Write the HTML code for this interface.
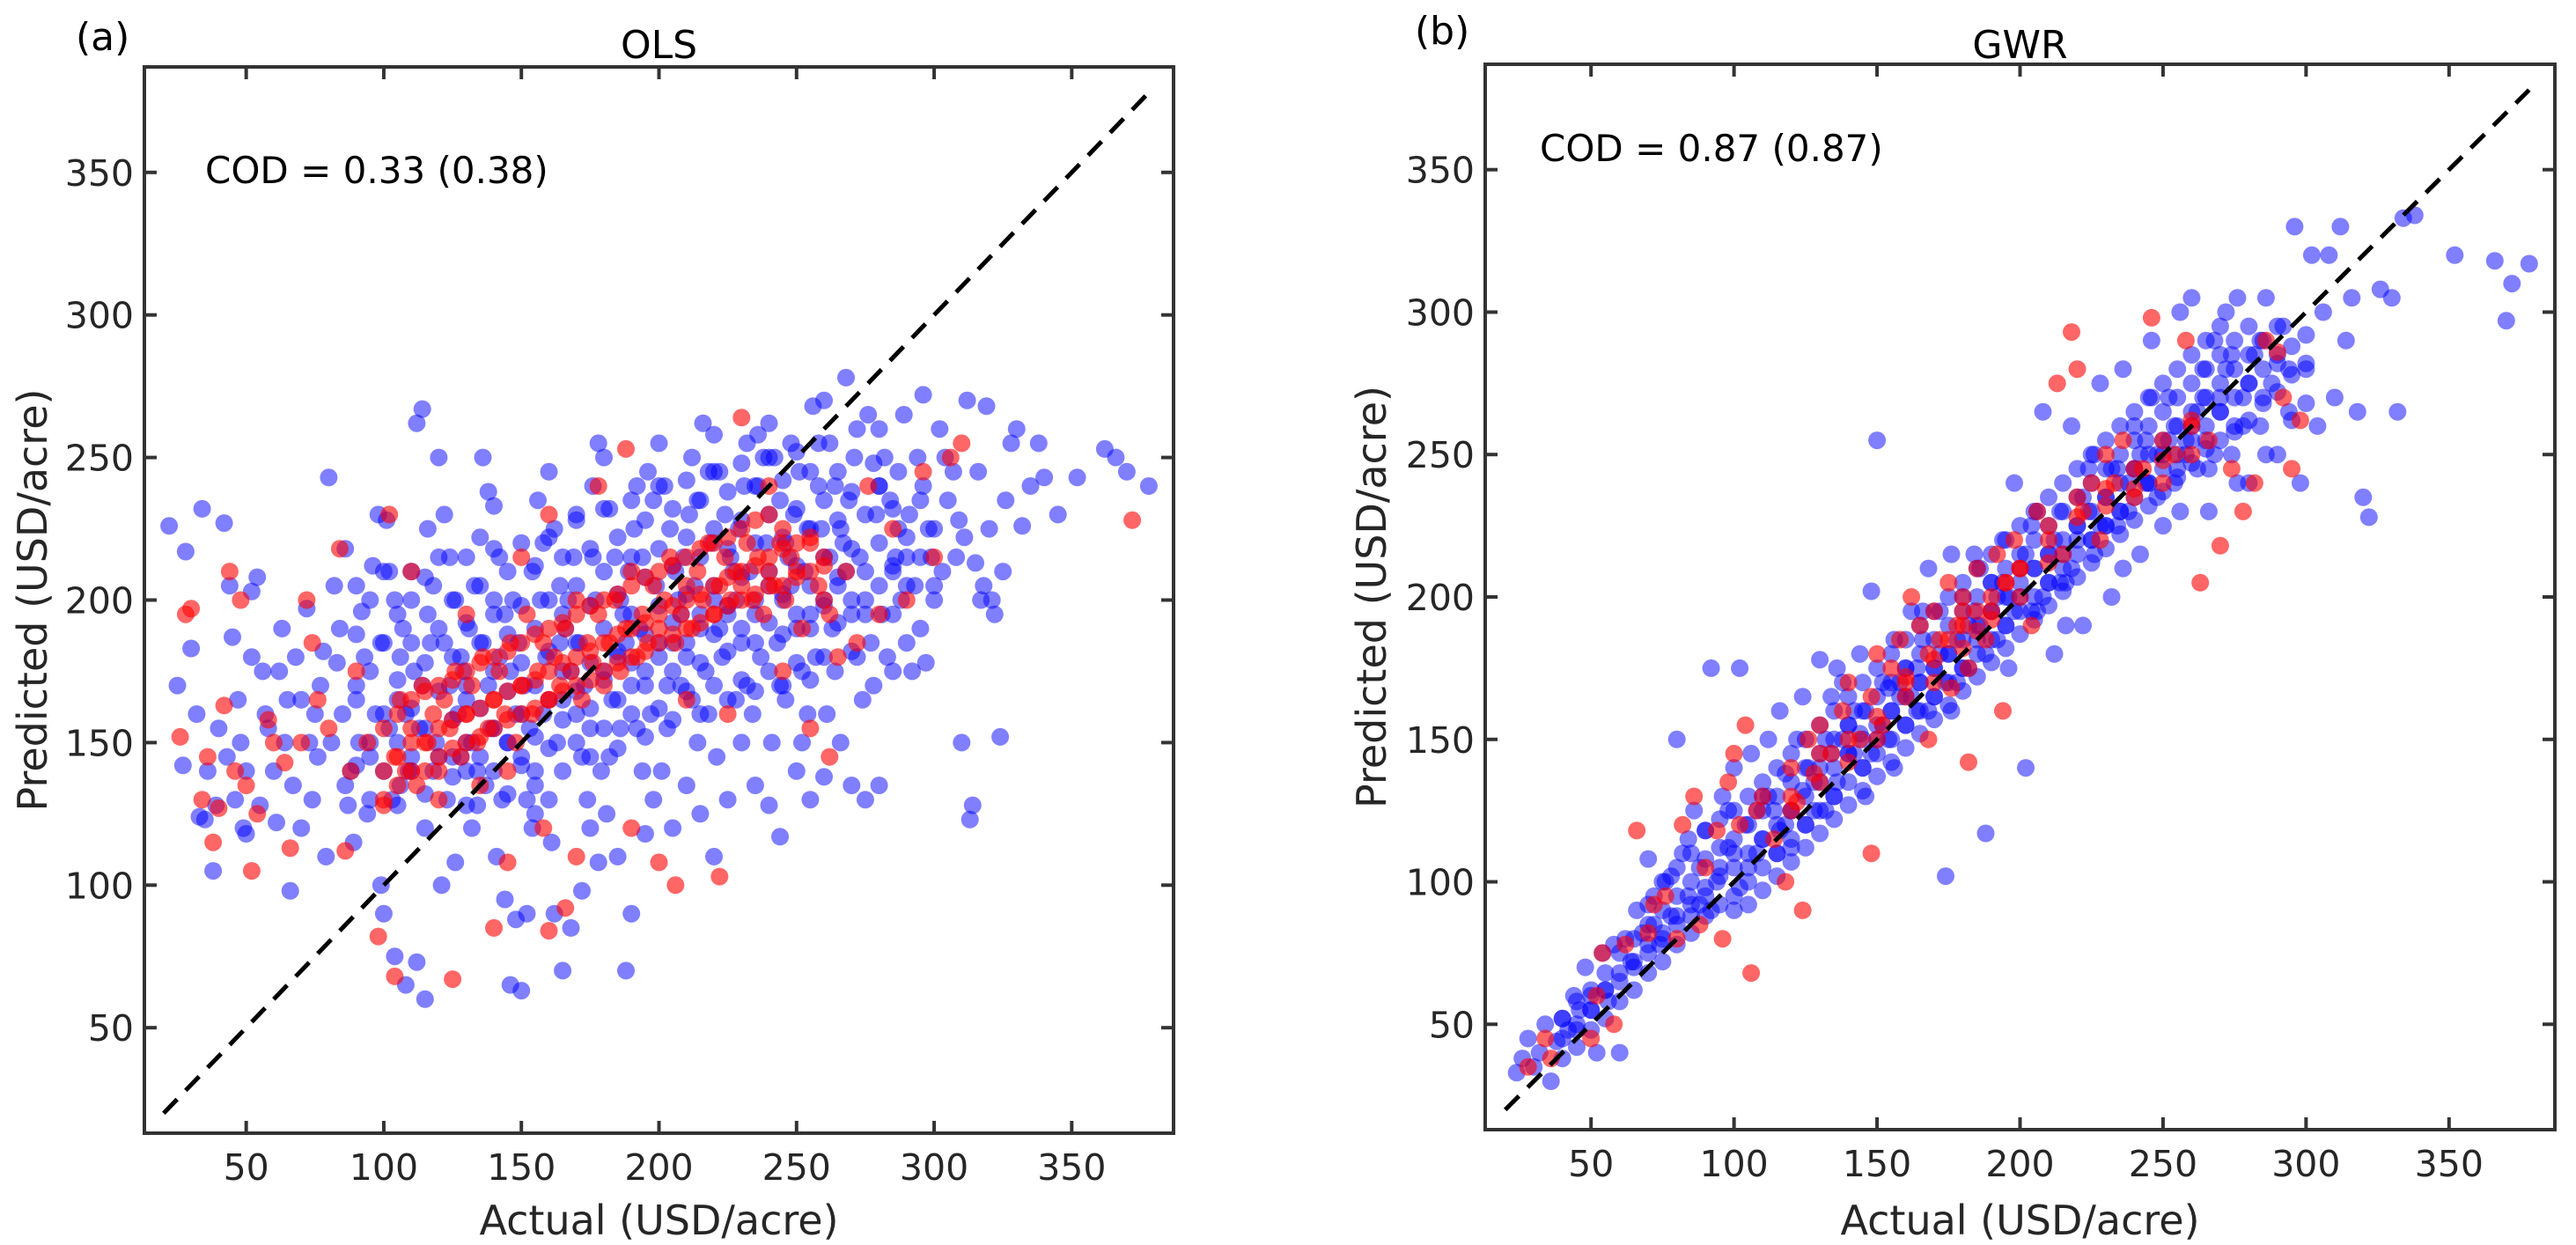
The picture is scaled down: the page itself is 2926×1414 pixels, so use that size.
<!DOCTYPE html>
<html><head><meta charset="utf-8"><style>
html,body{margin:0;padding:0;background:#fff;}
svg{display:block;font-family:"DejaVu Sans","Liberation Sans",sans-serif;}
</style></head><body>
<svg id="fig" width="2926" height="1414" viewBox="0 0 2926 1414" xmlns="http://www.w3.org/2000/svg"></svg>
<script>
const tickValues=[50,100,150,200,250,300,350];
const tickLabels=["50","100","150","200","250","300","350"];
const axisMin=[13,13];
const axisMax=[387,387];
const identityLine=[20,378];
const olsBlue=[[22,226],[25,170],[28,217],[30,183],[32,160],[34,232],[36,140],[38,105],[35,123],[40,155],[27,142],[33,124],[39,128],
[42,227],[44,205],[45,187],[47,165],[48,150],[50,140],[52,203],[54,208],[56,175],[58,155],[46,130],[50,118],[55,128],[43,145],[57,160],[52,180],[49,120],
[60,140],[62,175],[64,150],[66,98],[68,180],[70,165],[72,197],[74,130],[76,145],[78,182],[61,122],[65,165],[70,120],[75,160],[79,110],[63,190],[67,135],[73,150],[77,170],
[80,243],[82,205],[84,190],[85,160],[86,218],[88,140],[90,170],[92,196],[94,125],[96,212],[98,230],[99,100],[81,150],[83,178],[87,128],[89,115],[91,150],[93,180],[95,145],[97,160],[86,135],[90,205],[95,130],[99,185],
[100,90],[101,228],[102,210],[104,200],[106,180],[108,160],[110,145],[112,262],[114,267],[116,225],[118,205],[103,130],[105,165],[107,190],[109,140],[111,175],[113,155],[115,120],[117,185],[119,150],[104,75],[108,65],[112,73],[115,60],[106,135],[110,210],[114,170],[118,140],[102,155],[116,195],
[120,250],[122,230],[124,215],[126,200],[128,180],[130,165],[132,150],[134,140],[136,250],[138,238],[121,100],[123,130],[125,145],[127,160],[129,175],[131,190],[133,205],[135,222],[137,135],[139,155],[124,170],[128,145],[132,120],[136,185],[140,200],[126,108],[134,128],[138,170],[122,185],[130,140],
[140,233],[142,215],[144,195],[146,175],[148,160],[150,145],[152,130],[154,120],[156,235],[158,220],[141,110],[143,130],[145,150],[147,200],[149,185],[151,170],[153,155],[155,140],[157,200],[159,180],[144,95],[148,88],[150,63],[146,65],[152,90],[155,125],[158,160],[142,180],[154,210],[160,130],
[160,245],[162,225],[164,205],[166,190],[168,175],[170,160],[172,145],[174,130],[176,240],[178,255],[161,115],[163,150],[165,165],[167,200],[169,215],[171,185],[173,170],[175,155],[177,200],[179,140],[162,90],[165,70],[168,85],[172,98],[175,120],[178,108],[164,185],[170,230],[176,215],[180,175],
[180,250],[182,232],[184,215],[186,200],[188,185],[190,170],[192,155],[194,140],[196,245],[198,235],[181,125],[183,165],[185,180],[187,195],[189,210],[191,225],[193,190],[195,175],[197,160],[199,205],[188,70],[190,90],[185,110],[195,118],[198,130],[182,145],[192,240],[186,155],[194,215],[200,185],
[200,255],[202,240],[204,225],[206,210],[208,195],[210,180],[212,165],[214,150],[216,262],[218,245],[201,140],[203,170],[205,185],[207,200],[209,215],[211,230],[213,205],[215,190],[217,175],[219,220],[205,120],[210,135],[215,125],[220,110],[203,155],[212,250],[218,160],[208,170],[214,235],[220,200],
[220,258],[222,245],[224,230],[226,215],[228,200],[230,185],[232,170],[234,160],[236,258],[238,250],[221,145],[223,180],[225,195],[227,210],[229,225],[231,240],[233,210],[235,195],[237,180],[239,220],[225,130],[230,150],[235,135],[240,128],[244,117],[228,165],[236,240],[232,255],[240,205],[222,190],
[240,262],[242,250],[244,235],[246,220],[248,205],[250,190],[252,175],[254,160],[256,268],[258,255],[241,150],[243,185],[245,200],[247,215],[249,230],[251,245],[253,210],[255,195],[257,180],[259,225],[250,140],[255,130],[252,150],[260,138],[246,165],[258,240],[244,170],[254,225],[260,200],[248,255],
[260,270],[262,255],[264,240],[266,225],[268,210],[270,195],[272,180],[274,165],[276,265],[278,248],[261,160],[263,190],[265,205],[267,220],[269,235],[271,250],[273,215],[275,200],[277,185],[279,230],[266,150],[270,135],[275,130],[280,135],[268,278],[264,175],[278,170],[272,260],[262,215],[280,240],
[280,260],[282,250],[284,235],[286,215],[288,200],[290,185],[292,175],[294,250],[296,240],[298,225],[281,195],[283,180],[285,210],[287,245],[289,265],[291,230],[293,205],[295,190],[297,178],[299,215],[285,175],[290,215],[296,272],[300,200],[287,225],
[302,260],[305,235],[308,215],[310,150],[312,270],[314,128],[316,245],[318,205],[320,225],[322,195],[324,152],[326,235],[328,255],[330,260],[304,250],[309,228],[313,123],[317,200],[321,200],[303,210],[307,245],[311,222],[315,213],[319,268],[325,210],
[332,226],[338,255],[340,243],[352,243],[362,253],[366,250],[370,245],[378,240],[335,240],[345,230]];
const olsBlueCore=[[90,[165,188,142]],[95,[175,150,200]],[100,[160,185,140,210]],[105,[150,172,195,128]],[110,[162,185,140,200]],[115,[155,178,132,208]],[120,[168,145,190,215]],[125,[158,180,138,200]],[130,[170,150,192,215,128]],[135,[162,185,145,205]],[140,[175,155,195,140,218]],[145,[168,188,150,210,132]],[150,[178,160,198,142,220]],[155,[170,190,152,212,135]],[160,[182,165,200,148,222]],[165,[175,195,158,215,140]],[170,[185,168,205,150,228]],[175,[178,198,162,218,145]],[180,[190,172,210,155,232]],[185,[182,202,165,222,148]],[190,[195,178,215,160,235]],[195,[188,208,170,228,152]],[200,[198,180,218,162,240]],[205,[192,212,175,232,158]],[210,[202,185,222,168,242]],[215,[195,215,178,235,160]],[220,[205,188,225,170,245]],[225,[198,218,182,238,165]],[230,[208,190,228,172,248]],[235,[200,220,185,240,168]],[240,[210,192,230,175,250]],[245,[202,222,188,242,170]],[250,[212,195,232,178,252]],[255,[205,225,190,245,172]],[260,[215,198,235,180]],[265,[208,228,192,245]],[270,[218,200,238,182]],[275,[210,230,195]],[280,[220,205,240]],[285,[212,232,195]],[290,[222,205]],[295,[215,235]],[300,[225,205]]];
const olsRed=[[26,152],[28,195],[30,197],[34,130],[36,145],[38,115],[40,127],[42,163],[44,210],[46,140],[48,200],[50,135],[52,105],[54,125],[58,158],[60,150],[64,143],[66,113],[70,150],[72,200],[74,185],[76,165],[80,155],[84,218],[86,112],[88,140],[90,175],[94,150],[98,82],[100,128],[102,230],[104,145],[106,165],[108,140],[110,155],[112,135],[114,170],[116,150],[118,160],[120,140],[122,165],[124,155],[126,175],[128,145],[130,160],[132,170],[134,150],[136,180],[138,155],[140,165],[142,175],[144,160],[146,185],[148,150],[150,170],[152,195],[154,160],[156,175],[158,185],[160,165],[162,180],[164,170],[166,190],[168,175],[170,200],[172,165],[174,185],[176,178],[178,195],[180,170],[182,185],[184,200],[186,175],[188,190],[190,210],[192,180],[194,195],[196,185],[198,205],[200,190],[202,200],[204,215],[206,185],[208,195],[210,205],[212,190],[214,210],[216,200],[218,220],[220,195],[222,205],[224,215],[226,200],[228,210],[230,205],[232,220],[234,200],[236,215],[238,195],[240,210],[242,205],[244,220],[246,200],[248,215],[250,210],[252,190],[255,220],[258,205],[260,215],[262,195],[265,180],[268,210],[272,185],[276,240],[280,195],[285,225],[290,200],[296,245],[300,215],[306,250],[310,255],[372,228],[140,85],[145,108],[160,84],[166,92],[190,120],[200,108],[206,100],[222,103],[125,67],[104,68],[158,120],[170,110],[230,264],[188,253],[160,230],[178,240],[240,240],[110,210],[130,195],[150,215],[210,165],[225,160],[245,175],[255,155],[262,145],[145,140],[120,130],[135,135]];
const olsRedCore=[[100,[140,155,130]],[105,[145,160,135]],[110,[150,165,140]],[115,[150,168,140]],[120,[155,170,145]],[125,[158,172,148]],[130,[160,175,150]],[135,[162,178,152]],[140,[165,180,155]],[145,[168,182,158]],[150,[170,185,160]],[155,[172,188,162]],[160,[175,190,165]],[165,[178,192,168]],[170,[180,195,170]],[175,[182,198,172]],[180,[185,200,175]],[185,[188,202,178]],[190,[190,205,180]],[195,[192,208,182]],[200,[195,210,185]],[205,[198,212,188]],[210,[200,215,190]],[215,[202,218,192]],[220,[205,220,195]],[225,[208,222,198]],[230,[210,225,200]],[235,[212,228,202]],[240,[215,230,205]],[245,[205,218,225]],[250,[208,220]],[255,[210,222]],[260,[212,200]]];
const gwrBlue=[[24,33],[26,38],[28,45],[30,35],[32,40],[34,50],[36,30],[38,44],[40,52],[42,48],[44,60],[46,55],[48,70],[50,62],[52,40],[54,75],[56,58],[58,78],[60,40],[62,80],[64,72],[66,90],[68,82],[70,108],[72,95],[74,78],[76,100],[78,88],[80,150],[82,110],[84,95],[86,125],[88,105],[90,118],[92,175],[94,100],[96,130],[98,112],[100,140],[102,175],[104,120],[106,145],[108,110],[110,130],[112,150],[114,125],[116,160],[118,138],[120,112],[122,150],[124,165],[126,140],[128,125],[130,178],[132,150],[134,165],[136,135],[138,170],[140,155],[142,145],[144,180],[146,160],[148,202],[150,255],[152,170],[154,150],[156,185],[158,165],[160,175],[162,195],[164,160],[166,185],[168,210],[170,175],[172,195],[174,102],[176,215],[178,185],[180,200],[182,175],[184,215],[186,190],[188,117],[190,205],[192,185],[194,220],[196,200],[198,240],[200,210],[202,140],[204,225],[206,195],[208,265],[210,215],[212,180],[214,230],[216,205],[218,260],[220,220],[222,190],[224,245],[226,215],[228,275],[230,225],[232,200],[234,245],[236,280],[238,230],[240,260],[242,215],[244,240],[246,290],[248,250],[250,225],[252,270],[254,240],[256,300],[258,255],[260,305],[262,245],[264,280],[266,230],[268,290],[270,265],[272,300],[274,250],[276,305],[278,270],[280,240],[282,285],[284,260],[286,305],[288,275],[290,250],[292,295],[294,265],[296,330],[298,240],[300,280],[302,320],[304,260],[306,300],[308,320],[310,270],[312,330],[314,290],[316,305],[318,265],[320,235],[322,228],[326,308],[330,305],[332,265],[338,334],[352,320],[366,318],[370,297],[372,310],[378,317],[334,333],
[105,105],[110,115],[115,110],[120,125],[125,120],[130,140],[135,130],[140,145],[145,140],[150,150],[155,160],[160,155],[165,170],[170,165],[175,180],[180,175],[185,185],[190,195],[195,190],[200,200],[205,210],[210,205],[215,215],[220,225],[225,220],[230,235],[235,230],[240,245],[245,240],[250,250],[255,245],[260,260],[265,255],[270,270],[275,260],[280,275],[285,270],[290,285],[112,130],[118,120],[128,135],[132,125],[138,150],[142,160],[148,145],[152,155],[158,170],[162,165],[168,160],[172,180],[178,170],[182,190],[188,180],[192,200],[198,195],[202,215],[208,200],[212,220],[218,210],[222,235],[228,225],[232,245],[238,240],[242,250],[248,235],[252,255],[258,250],[262,265],[268,250],[272,280],[278,260],[100,110],[95,105],[90,95],[85,88],[80,85],[75,80],[70,78],[65,72],[60,68],[55,62],[50,55],[45,48],[98,125],[92,90],[88,92],[84,115],[78,102],[72,85],[102,98],[108,125],[116,118],[124,132],[134,145],[144,152],[154,168],[164,175],[174,170],[184,195],[194,205],[204,195],[214,205],[224,230],[234,225],[244,255],[254,260],[264,270],[274,285],[284,290],[294,280],[136,175],[146,130],[156,140],[166,195],[176,160],[186,210],[196,175],[206,230],[216,190],[226,250],[236,210],[246,270],[256,230],[266,245],[276,240],[286,250]];
const gwrBlueCore=[[40,[45,38,52]],[45,[50,42,58]],[50,[48,60,55]],[55,[62,52,68]],[60,[65,58,75]],[65,[70,62,80]],[70,[75,68,85,92]],[75,[82,72,90,100]],[80,[88,78,95,105]],[85,[92,82,100,110]],[90,[98,88,108,118]],[95,[102,92,112,122]],[100,[105,95,115,125,90]],[105,[110,100,120,130,92]],[110,[115,105,125,135,97]],[115,[120,110,130,140,102]],[120,[125,115,135,145,107]],[125,[130,120,140,150,112]],[130,[135,125,145,155,117]],[135,[140,130,150,160,122]],[140,[145,135,155,165,127]],[145,[150,140,160,170,132]],[150,[155,145,165,175,137]],[155,[160,150,170,180,142]],[160,[165,155,175,185,147]],[165,[170,160,180,190,152]],[170,[175,165,185,195,157]],[175,[180,170,190,200,162]],[180,[185,175,195,205,167]],[185,[190,180,200,210,172]],[190,[195,185,205,215,177]],[195,[200,190,210,220,182]],[200,[205,195,215,225,187]],[205,[210,200,220,230,192]],[210,[215,205,225,235,197]],[215,[220,210,230,240,202]],[220,[225,215,235,245,207]],[225,[230,220,240,250,212]],[230,[235,225,245,255,217]],[235,[240,230,250,260,222]],[240,[245,235,255,265,227]],[245,[250,240,260,270,232]],[250,[255,245,265,275,237]],[255,[260,250,270,280,242]],[260,[265,255,275,285,247]],[265,[270,260,280,290,252]],[270,[275,265,285,295,255]],[275,[280,270,290,258]],[280,[285,275,295,262]],[285,[290,280,268]],[290,[295,282,272]],[295,[288,278,262]],[300,[292,282,268]]];
const gwrRed=[[28,35],[34,45],[36,38],[50,45],[52,60],[54,75],[58,50],[62,78],[66,118],[70,82],[72,92],[76,95],[80,80],[82,120],[86,130],[88,85],[90,105],[94,118],[96,80],[98,135],[100,145],[102,120],[104,155],[106,68],[108,125],[110,130],[114,115],[118,100],[120,140],[122,128],[124,90],[126,150],[128,138],[130,155],[134,145],[138,160],[140,170],[144,150],[148,165],[150,180],[152,155],[155,175],[158,185],[160,170],[162,200],[165,190],[168,180],[170,195],[172,185],[175,205],[178,190],[180,200],[182,175],[185,210],[188,185],[190,195],[192,215],[195,205],[198,220],[200,210],[204,190],[206,230],[210,225],[213,275],[215,215],[218,293],[220,280],[222,230],[225,240],[228,220],[230,250],[233,240],[236,255],[240,235],[243,245],[246,298],[250,240],[254,250],[258,290],[260,260],[263,205],[266,255],[270,218],[274,245],[278,230],[282,240],[286,290],[290,286],[292,270],[295,245],[298,262],[182,142],[168,150],[148,110],[176,168],[194,160]];
const gwrRedCore=[[120,[125,130]],[130,[135,145]],[140,[150,142]],[150,[158,150]],[160,[165,172]],[170,[178,170]],[175,[185]],[180,[190,182,195]],[185,[195,188]],[190,[200,192]],[195,[205]],[200,[210,200]],[210,[220,212]],[220,[228,235]],[230,[238,232]],[240,[245,238]],[250,[255,248]],[260,[262,250]]];

const NS="http://www.w3.org/2000/svg";
const svg=document.getElementById('fig');
function mk(tag,attrs,parent){const e=document.createElementNS(NS,tag);for(const k in attrs)e.setAttribute(k,attrs[k]);(parent||svg).appendChild(e);return e;}
function expand(core){const out=[];core.forEach(c=>c[1].forEach(y=>out.push([c[0],y])));return out;}

const panels=[
 {key:'ols',l:164,r:1333,t:76,b:1287,title:'OLS',tag:'(a)',tagX:86,tagY:57,cod:'COD = 0.33 (0.38)',codX:233,codY:208,ylabX:37,blue:olsBlue.concat(expand(olsBlueCore)),red:olsRed.concat(expand(olsRedCore))},
 {key:'gwr',l:1687,r:2902,t:73,b:1283,title:'GWR',tag:'(b)',tagX:1607,tagY:50,cod:'COD = 0.87 (0.87)',codX:1749,codY:183,ylabX:1558,blue:gwrBlue.concat(expand(gwrBlueCore)),red:gwrRed.concat(expand(gwrRedCore))}
];
panels.forEach(p=>{
 const sx=v=>p.l+(v-axisMin[0])/(axisMax[0]-axisMin[0])*(p.r-p.l);
 const sy=v=>p.b-(v-axisMin[1])/(axisMax[1]-axisMin[1])*(p.b-p.t);
 const g=mk('g',{});
 
 
 const gb=mk('g',{fill:'rgba(0,0,255,0.5)'},g);
 
 
 p.blue.forEach(d=>{const c=mk('circle',{cx:sx(d[0]).toFixed(1),cy:sy(d[1]).toFixed(1),r:10},gb);
  
  });
 const gr=mk('g',{fill:'rgba(255,0,0,0.6)'},g);
 
 
 p.red.forEach(d=>{const c=mk('circle',{cx:sx(d[0]).toFixed(1),cy:sy(d[1]).toFixed(1),r:10},gr);
  
  });
 const ln=mk('line',{x1:sx(identityLine[0]),y1:sy(identityLine[0]),x2:sx(identityLine[1]),y2:sy(identityLine[1]),stroke:'#000','stroke-width':5,'stroke-dasharray':'22 14'},g);
 
 
 const fr=mk('rect',{x:p.l,y:p.t,width:p.r-p.l,height:p.b-p.t,fill:'none',stroke:'#333','stroke-width':4},g);
 
 
 tickValues.forEach((v,i)=>{
  const x=sx(v),y=sy(v);
  [[x,p.b,x,p.b-14],[x,p.t,x,p.t+14],[p.l,y,p.l+14,y],[p.r,y,p.r-14,y]].forEach(s=>{
   const t=mk('line',{x1:s[0],y1:s[1],x2:s[2],y2:s[3],stroke:'#333','stroke-width':4},g);
   
   });
  const tx=mk('text',{x:x,y:p.b+53,'text-anchor':'middle','font-size':41,fill:'#262626'},g);
  tx.textContent=tickLabels[i];
  
  
  const ty=mk('text',{x:p.l-12,y:y+15,'text-anchor':'end','font-size':41,fill:'#262626'},g);
  ty.textContent=tickLabels[i];
  
  
 });
 const xl=mk('text',{x:(p.l+p.r)/2,y:1402,'text-anchor':'middle','font-size':46,fill:'#262626'},g);
 xl.textContent='Actual (USD/acre)';
 
 
 const cy=(p.t+p.b)/2;
 const yl=mk('text',{x:p.ylabX,y:cy,'text-anchor':'middle','font-size':46,fill:'#262626',transform:`rotate(-90 ${p.ylabX} ${cy}) translate(0 16)`},g);
 yl.textContent='Predicted (USD/acre)';
 
 
 const ti=mk('text',{x:(p.l+p.r)/2,y:66,'text-anchor':'middle','font-size':44,fill:'#000'},g);
 ti.textContent=p.title;
 
 
 const tg=mk('text',{x:p.tagX,y:p.tagY,'font-size':44,fill:'#000'},g);
 tg.textContent=p.tag;
 
 
 const cd=mk('text',{x:p.codX,y:p.codY,'font-size':42,fill:'#000'},g);
 cd.textContent=p.cod;
 
 
});
</script>
</body></html>
